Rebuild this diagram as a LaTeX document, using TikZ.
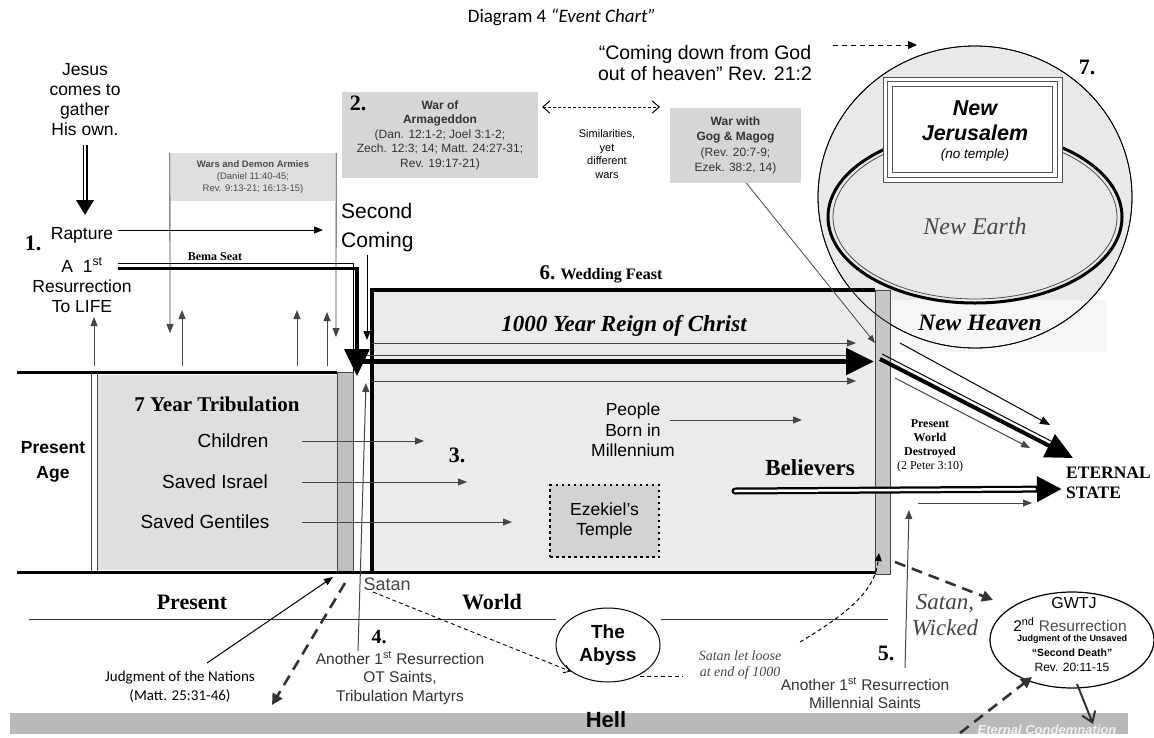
\documentclass[tikz,border=0pt]{standalone}
\usepackage{fontspec}
\setmainfont{Liberation Serif}
\setsansfont{Liberation Sans}
\newfontfamily\calfont{Carlito}
\usetikzlibrary{arrows.meta,shapes.geometric,positioning}
\newcommand{\fsz}[2]{\fontsize{#1}{#2}\selectfont}
\tikzset{
  lbl/.style={inner sep=0pt, align=center},
  numlbl/.style={inner sep=0pt, font=\rmfamily\bfseries\fsz{22}{24}},
  graybox/.style={fill=gray!32, inner sep=0pt, align=center, font=\sffamily},
  arr/.style={line width=1pt, -{Triangle[length=9pt,width=7pt]}},
  grayarr/.style={arr, draw=gray!55!black},
  heavydash/.style={line width=2.6pt, draw=black!80, dash pattern=on 11pt off 7pt, -{Triangle[length=11pt,width=11pt]}},
  bighead/.style={-{Triangle[length=27pt,width=25pt]}},
  dimtext/.style={text=gray!55!black}
}
\begin{document}
\begin{tikzpicture}[x=1pt,y=-1pt]
\useasboundingbox (0,0) rectangle (1154,737);
\fill[white] (0,0) rectangle (1154,737);

\node[font=\calfont\fsz{19}{22}] (title) at (562,17) {Diagram 4 \textit{“Event Chart”}};

% eternal state
\fill[gray!17] (975,197) ellipse [x radius=157pt, y radius=151pt];
\fill[gray!7] (890,300) rectangle (1107,352);
\draw[line width=0.8pt] (975,197) ellipse [x radius=157pt, y radius=151pt];
\draw[line width=3pt] (975,217) ellipse [x radius=147pt, y radius=86pt];
\draw[gray!60!black, line width=0.8pt] (975,217) ellipse [x radius=142pt, y radius=82pt];
\node[fill=white, draw=gray!65!black, line width=1pt, minimum width=179pt, minimum height=105pt] (nj) at (972.5,129.5) {};
\draw[gray!65!black, line width=1pt] ([shift={(5pt,-5pt)}]nj.north west) rectangle ([shift={(-5pt,5pt)}]nj.south east);
\draw[gray!65!black, line width=0.8pt] ([shift={(10pt,-10pt)}]nj.north west) rectangle ([shift={(-10pt,10pt)}]nj.south east);
\node[lbl, font=\sffamily\bfseries\itshape\fsz{21.5}{25}] (njname) at (975,121) {New\\Jerusalem};
\node[font=\sffamily\itshape\fsz{13.5}{15}] (notemple) at (975,155) {(no temple)};
\node[font=\rmfamily\itshape\fsz{24}{26}, dimtext] (newearth) at (975,226) {New Earth};
\node[font=\rmfamily\bfseries\itshape\fsz{23.5}{26}] (newheaven) at (980,323) {New Heaven};
\node[numlbl] (num7) at (1087,67) {7.};
\node[lbl, font=\sffamily\fsz{19.5}{21}] (coming) at (705,63) {“Coming down from God\\out of heaven” Rev. 21:2};
\draw[line width=1pt, dash pattern=on 5pt off 4pt, -{Triangle[length=9pt,width=8pt]}] (833,45) -- (917,45);

% wars
\node[graybox, minimum width=196pt, minimum height=86pt, font=\sffamily\fsz{12}{14.5}, text=black!80] (arma) at (440,135) {\textbf{War of}\\\textbf{Armageddon}\\(Dan. 12:1-2; Joel 3:1-2;\\Zech. 12:3; 14; Matt. 24:27-31;\\Rev. 19:17-21)};
\node[numlbl] (num2) at (358,103) {2.};
\node[graybox, minimum width=131pt, minimum height=75pt, font=\sffamily\fsz{12}{15.3}, text=black!80] (gog) at (735.5,145.5) {\textbf{War with}\\\textbf{Gog \& Magog}\\(Rev. 20:7-9;\\Ezek. 38:2, 14)};
\draw[line width=1pt, dash pattern=on 2.5pt off 2.5pt, {Straight Barb[length=7pt,width=12pt]}-{Straight Barb[length=7pt,width=12pt]}] (542,107) -- (660,107);
\node[lbl, font=\sffamily\fsz{11}{13.5}] (simil) at (607,154) {Similarities,\\yet\\different\\wars};
\node[graybox, fill=gray!26, minimum width=166pt, minimum height=48pt, font=\sffamily\fsz{9.5}{12}, text=black!70] (wars) at (253,177) {\textbf{Wars and Demon Armies}\\(Daniel 11:40-45;\\Rev. 9:13-21; 16:13-15)};
\draw[grayarr, line width=0.8pt] (wars.north west) -- (170,333);
\draw[grayarr, line width=0.8pt] (wars.north east) -- (336,337);

% rapture
\node[lbl, font=\sffamily\fsz{17.5}{20}] (jesus) at (85,100) {Jesus\\comes to\\gather\\His own.};
\coordinate (jtop) at (85,145);
\coordinate (jbot) at (85,215);
\draw[line width=5pt, -{Triangle[length=15pt,width=17pt]}] (jtop) -- (jbot);
\draw[white, line width=2pt, shorten >=15pt] (jtop) -- (jbot);
\node[numlbl] (num1) at (33,243) {1.};
\node[font=\sffamily\fsz{17.5}{20}] (rapture) at (82,235) {Rapture};
\node[lbl, font=\sffamily\fsz{17.5}{20}] (lifeRes) at (82,285) {A\ \ 1\textsuperscript{st}\\Resurrection\\To LIFE};
\draw[arr] (118,230) -- (323,230);
\node[lbl, font=\sffamily\fsz{21}{29}, align=left, anchor=west] (second) at (341,228) {Second\\Coming};
\node[font=\rmfamily\bfseries\fsz{12}{14}] (bema) at (215,257) {Bema Seat};

% present age and tribulation
\fill[gray!25] (98,375) rectangle (337,570);
\draw[line width=3pt] (17,372) -- (337,372);
\draw[gray!55!black, line width=1pt] (91,372) -- (91,571) (97,372) -- (97,571);
\filldraw[fill=gray!50, draw=gray!55!black, line width=0.8pt] (337,372) rectangle (353,571);
\foreach \x/\t in {94/317,182/310,297/310,327/312}
  \draw[grayarr] (\x,366) -- (\x,\t);

% millennium
\fill[gray!16] (372,290) rectangle (875,572);
\filldraw[fill=gray!45, draw=gray!55!black, line width=0.8pt] (875,290) rectangle (890,574);
\draw[line width=3.5pt] (875,290) -- (372,290) -- (372,572);
\draw[line width=3pt] (17,572.5) -- (875,572.5);
\draw[line width=0.8pt] (975,197) ellipse [x radius=157pt, y radius=151pt];
\node[anchor=west, font=\rmfamily\bfseries\fsz{16}{18}] (feast) at (536,274) {{\fsz{21}{22}6.} Wedding Feast};
\node[font=\rmfamily\bfseries\itshape\fsz{23}{26}] (reign) at (624,326) {1000 Year Reign of Christ};

\draw[line width=0.8pt] (118,263) -| (353,372);
\draw[line width=3.5pt, bighead] (118,268.5) -| (357,376);
\draw[arr] (367,255) -- (367,340);
\draw[grayarr] (372,343) -- (856,343);
\draw[grayarr] (372,381) -- (856,381);
\draw[gray!50!black, line width=1pt] (366,355) -- (850,355);
\draw[line width=5.5pt, -{Triangle[length=28pt,width=26pt]}] (362,361.5) -- (874,361.5);

\node[font=\rmfamily\bfseries\fsz{21}{24}] (trib) at (217,404) {7 Year Tribulation};
\node[font=\sffamily\fsz{19}{21}] (children) at (233,441) {Children};
\node[font=\sffamily\fsz{19}{21}] (israel) at (215,482) {Saved Israel};
\node[font=\sffamily\fsz{19}{21}] (gentiles) at (205,522) {Saved Gentiles};
\draw[grayarr] (children -| 302,0) -- (children -| 424,0);
\draw[grayarr] (israel -| 302,0) -- (israel -| 467,0);
\draw[grayarr] (gentiles -| 302,0) -- (gentiles -| 512,0);
\node[lbl, font=\sffamily\bfseries\fsz{17.5}{25}] (presentage) at (53,462) {Present\\Age};
\node[numlbl] (num3) at (457,455) {3.};
\node[lbl, font=\sffamily\fsz{17.5}{20.5}] (people) at (633,430) {People\\Born in\\Millennium};
\draw[grayarr] (670,420) -- (802,420);
\node[draw, fill=gray!35, line width=2.5pt, dash pattern=on 2.5pt off 3.5pt, minimum width=109pt, minimum height=72pt, align=center, font=\sffamily\fsz{17.5}{20}] (temple) at (604.5,521) {Ezekiel’s\\Temple};
\node[font=\rmfamily\bfseries\fsz{23}{26}] (believers) at (810,468) {Believers};

% to eternal state
\draw[gray!55!black, line width=0.8pt, -{Triangle[length=8pt,width=6pt]}] ([xshift=11pt]gog.south) -- (875,343);
\draw[line width=1pt, -{Triangle[length=10pt,width=8pt]}] (900,343) -- (1050,425);
\draw[line width=1pt] (882,354) -- (1051,441);
\draw[line width=4pt, bighead] (880,359) -- (1073,458);
\draw[grayarr] (895,378) -- (1030,448);
\coordinate (bstart) at (735,491);
\coordinate (bend) at (1062,489);
\draw[line width=7pt, line cap=round, -{Triangle[length=25pt,width=24pt]}] (bstart) -- (bend);
\draw[white, line width=2.5pt, line cap=round, shorten >=27pt] (bstart) -- (bend);
\node[lbl, font=\rmfamily\fsz{12}{14}] (destroyed) at (930,446) {\textbf{Present}\\\textbf{World}\\\textbf{Destroyed}\\(2 Peter 3:10)};
\node[lbl, font=\rmfamily\bfseries\fsz{17.5}{20}, align=left, anchor=west] (eternal) at (1066,483) {ETERNAL\\STATE};
\draw[grayarr] (918,503) -- (1032,503);

% present world, abyss, hell
\node[font=\rmfamily\bfseries\fsz{22}{24}] (present) at (192,602) {Present};
\node[font=\rmfamily\bfseries\fsz{22}{24}] (world) at (492,602) {World};
\draw[gray!40!black, line width=1pt] (29,619) -- (556,619) (661,619) -- (888,619);
\node[draw, ellipse, line width=1pt, minimum width=104pt, minimum height=74pt, inner sep=0pt, align=center, font=\sffamily\bfseries\fsz{19}{23}] (abyss) at (608,645) {The\\Abyss};
\fill[gray!55] (10,713) rectangle (1128,734);
\node[font=\sffamily\bfseries\fsz{22}{24}] (hell) at (606,720) {Hell};
\begin{scope}
\clip (10,713) rectangle (1128,734);
\node[font=\sffamily\bfseries\itshape\fsz{13}{14}, text=gray!12] (condemn) at (1047,730) {Eternal Condemnation};
\end{scope}

\node[anchor=west, font=\sffamily\fsz{18}{20}, dimtext] (satan) at (360,584) {Satan};
\draw[line width=0.9pt, dash pattern=on 4pt off 3pt, -{Straight Barb[length=6pt,width=8pt]}] (373,592) -- (abyss.south west);
\node[lbl, font=\calfont\fsz{15}{19}] (judg) at (180,687) {Judgment of the Nations\\(Matt. 25:31-46)};
\draw[arr] (207,663) -- (333,577);
\draw[heavydash] (345,583) -- (272,705);
\node[numlbl, font=\rmfamily\bfseries\fsz{20}{22}] (num4) at (379,637) {4.};
\node[lbl, font=\sffamily\fsz{15.5}{18.5}, text=black!80] (res4) at (400,678) {Another 1\textsuperscript{st} Resurrection\\OT Saints,\\Tribulation Martyrs};
\draw[grayarr] (358,651) -- (366,383);

\node[lbl, font=\rmfamily\itshape\fsz{14}{16}, dimtext] (loose) at (740,665) {Satan let loose\\at end of 1000};
\draw[line width=1pt, dash pattern=on 4pt off 3pt] (640,676) -- (683,676);
\draw[line width=1pt, dash pattern=on 4pt off 3pt, -{Triangle[length=8pt,width=7pt]}] (800,642) .. controls (845,615) and (875,592) .. (879,553);
\node[numlbl] (num5) at (886,653) {5.};
\node[lbl, font=\sffamily\fsz{15.5}{18}, text=black!80] (res5) at (865,693) {Another 1\textsuperscript{st} Resurrection\\Millennial Saints};
\draw[grayarr] (905,668) -- (909,510);
\node[lbl, font=\rmfamily\itshape\fsz{23}{26}, dimtext] (wicked) at (945,615) {Satan,\\Wicked};

% great white throne
\node[draw, ellipse, line width=1.2pt, minimum width=164pt, minimum height=96pt] (gwtj) at (1072,640) {};
\node[anchor=base, font=\sffamily\fsz{16}{18}] (gwA) at (1074,608) {GWTJ};
\node[anchor=base, font=\sffamily\fsz{15.5}{18}] (gwB) at (1070,631) {2\textsuperscript{nd} \textcolor{gray!60!black}{Resurrection}};
\node[anchor=base, font=\sffamily\bfseries\fsz{9}{10}] (gwC) at (1072,641.5) {Judgment of the Unsaved};
\node[anchor=base, font=\sffamily\bfseries\fsz{10.5}{12}] (gwD) at (1072,656) {“Second Death”};
\node[anchor=base, font=\sffamily\fsz{12}{14}] (gwE) at (1072,671.5) {Rev. 20:11-15};
\draw[heavydash] (895,562) -- (993,600);
\draw[heavydash] (960,733) -- (1032,677);
\draw[line width=2pt, draw=black!80, -{Straight Barb[length=10pt,width=14pt]}] (1077,684) -- (1093,724);
\end{tikzpicture}
\end{document}
